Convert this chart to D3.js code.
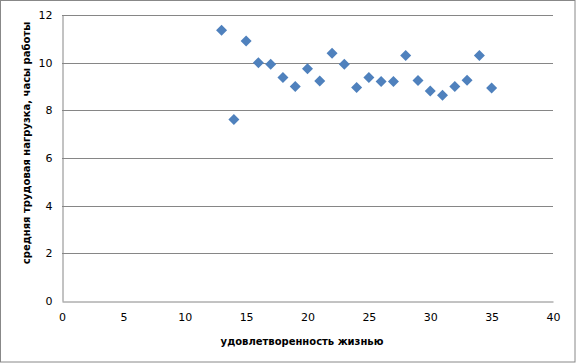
<!DOCTYPE html>
<html>
<head>
<meta charset="utf-8">
<script src="https://cdn.jsdelivr.net/npm/d3@7"></script>
<style>
	body { margin: 0; background: #fff; }
	.tick text { font-family: "DejaVu Sans", sans-serif; font-size: 11px; fill: #000; }
	.title { font-family: "DejaVu Sans", sans-serif; font-size: 10px; font-weight: bold; fill: #000; }
</style>
</head>
<body>
<script>
// удовлетворенность жизнью (x) / средняя трудовая нагрузка (y)
const satisfaction = [13, 14, 15, 16, 17, 18, 19, 20, 21, 22, 23, 24, 25, 26, 27, 28, 29, 30, 31, 32, 33, 34, 35];
const workHours = [11.36, 7.62, 10.91, 10.0, 9.93, 9.38, 9.0, 9.75, 9.23, 10.39, 9.93, 8.96, 9.38, 9.21, 9.21, 10.3, 9.25, 8.81, 8.63, 9.0, 9.26, 10.3, 8.94];
const xTicks = [0, 5, 10, 15, 20, 25, 30, 35, 40];
const yTicks = [0, 2, 4, 6, 8, 10, 12];

const width = 576, height = 364;
const svg = d3.select("body").append("svg").attr("width", width).attr("height", height);

// рамка диаграммы
svg.append("rect")
	.attr("x", 0.5).attr("y", 0.5)
	.attr("width", width - 1.5).attr("height", height - 2.5)
	.attr("fill", "#fff").attr("stroke", "#888");

const x = d3.scaleLinear().domain([0, 40]).range([62, 553]);
const y = d3.scaleLinear().domain([0, 12]).range([301, 15]);

// сетка
svg.append("g")
	.selectAll("line")
	.data(yTicks.slice(1))
	.join("line")
	.attr("x1", x(0)).attr("x2", x(40))
	.attr("y1", d => Math.round(y(d)) + 0.5).attr("y2", d => Math.round(y(d)) + 0.5)
	.attr("stroke", "#868686");

const xAxis = d3.axisBottom(x).tickValues(xTicks).tickSize(0).tickPadding(12).tickFormat(d3.format("d"));
const yAxis = d3.axisLeft(y).tickValues(yTicks).tickSize(0).tickPadding(10).tickFormat(d3.format("d"));

svg.append("g")
	.attr("transform", "translate(0," + (Math.round(y(0)) + 0.5) + ")")
	.call(xAxis)
	.call(g => g.select(".domain").attr("stroke", "#868686"));
svg.append("g")
	.attr("transform", "translate(" + (Math.round(x(0)) + 0.5) + ",0)")
	.call(yAxis)
	.call(g => g.select(".domain").attr("stroke", "#868686"));

// точки
const data = satisfaction.map((v, i) => ({ x: v, y: workHours[i] }));
svg.append("g")
	.selectAll("path")
	.data(data)
	.join("path")
	.attr("transform", d => "translate(" + x(d.x) + "," + y(d.y) + ")")
	.attr("d", "M0,-5.5L5.5,0L0,5.5L-5.5,0Z")
	.attr("fill", "#4f81bd");

// подписи осей
svg.append("text")
	.attr("class", "title")
	.attr("x", 302).attr("y", 345)
	.attr("text-anchor", "middle")
	.text("удовлетворенность  жизнью");
svg.append("text")
	.attr("class", "title")
	.attr("transform", "translate(30,143) rotate(-90)")
	.attr("text-anchor", "middle")
	.text("средняя трудовая нагрузка, часы работы");
</script>
</body>
</html>
